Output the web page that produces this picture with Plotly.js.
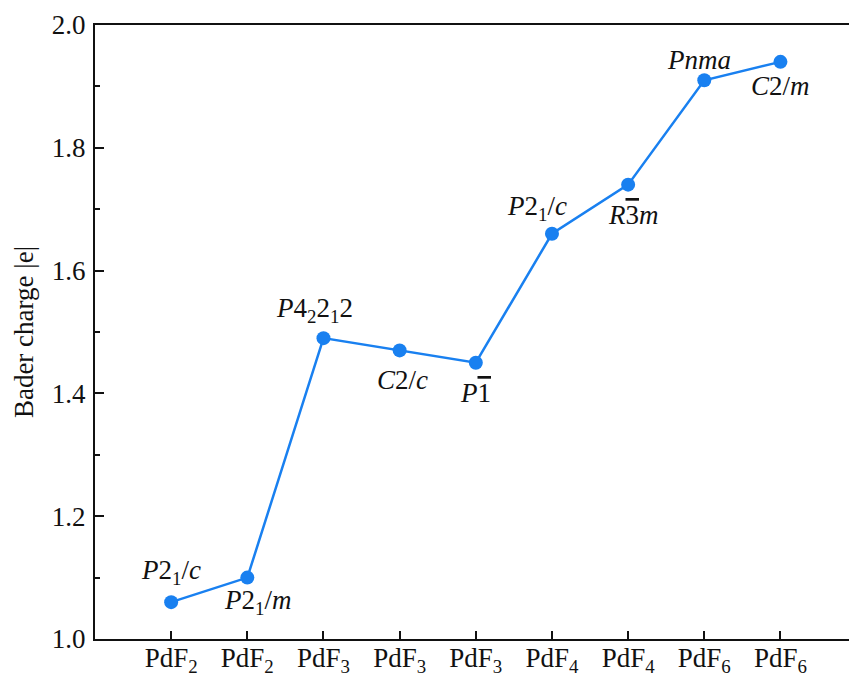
<!DOCTYPE html>
<html><head><meta charset="utf-8">
<script src="https://cdn.plot.ly/plotly-3.0.1.min.js"></script>
<style>body{margin:0;background:#fff}#c{width:849px;height:677px}</style>
</head><body><div id="c"></div>
<script>
const xPos = [1, 2, 3, 4, 5, 6, 7, 8, 9];
const tickLabels = ['PdF<sub>2</sub>','PdF<sub>2</sub>','PdF<sub>3</sub>','PdF<sub>3</sub>','PdF<sub>3</sub>','PdF<sub>4</sub>','PdF<sub>4</sub>','PdF<sub>6</sub>','PdF<sub>6</sub>'];
const baderCharge = [1.06, 1.10, 1.49, 1.47, 1.45, 1.66, 1.74, 1.91, 1.94];
const spaceGroups = ['<i>P</i>2<sub>1</sub>/<i>c</i>','<i>P</i>2<sub>1</sub>/<i>m</i>','<i>P</i>4<sub>2</sub>2<sub>1</sub>2','<i>C</i>2/<i>c</i>','<i>P</i><span style="text-decoration:overline">1</span>','<i>P</i>2<sub>1</sub>/<i>c</i>','<i>R</i><span style="text-decoration:overline">3</span><i>m</i>','<i>Pnma</i>','<i>C</i>2/<i>m</i>'];

const offs = [[0,30],[10,-24],[-9,28],[3,-30],[0,-30],[-15,26],[5,-30],[-5,20],[0,-24]];
const blue = 'rgb(25,128,240)';
const serif = 'Liberation Serif';

const annotations = spaceGroups.map((t,i)=>({
  x: xPos[i], y: baderCharge[i], xref:'x', yref:'y',
  text: t, showarrow:false,
  xshift: offs[i][0], yshift: offs[i][1],
  font:{family:serif, size:27, color:'#111'}
}));

Plotly.newPlot('c', [{
  x: xPos, y: baderCharge, type:'scatter', mode:'lines+markers',
  line:{color:blue, width:2.5},
  marker:{color:blue, size:14}
}], {
  width:849, height:677,
  margin:{l:95, r:0, t:25, b:38},
  paper_bgcolor:'#fff', plot_bgcolor:'#fff',
  showlegend:false,
  font:{family:serif, size:27, color:'#111'},
  xaxis:{range:[0,9.9], tickvals:xPos, ticktext:tickLabels,
    showline:true, linecolor:'#111', linewidth:2, mirror:true,
    ticks:'inside', ticklen:8, tickwidth:2, tickcolor:'#111', ticklabelstandoff:-6,
    showgrid:false, zeroline:false, tickfont:{family:serif,size:27,color:'#111'}},
  yaxis:{range:[1.0,2.0], tickvals:[1.0,1.2,1.4,1.6,1.8,2.0], ticktext:['1.0','1.2','1.4','1.6','1.8','2.0'],
    showline:true, linecolor:'#111', linewidth:2,
    ticks:'inside', ticklen:9, tickwidth:2, tickcolor:'#111', ticklabelstandoff:2,
    minor:{tickvals:[1.1,1.3,1.5,1.7,1.9], ticks:'inside', ticklen:5, tickwidth:2, tickcolor:'#111'},
    showgrid:false, zeroline:false, tickfont:{family:serif,size:27,color:'#111'},
    title:{text:'Bader charge |e|', font:{family:serif,size:27,color:'#111'}, standoff:10}},
  annotations: annotations
}, {staticPlot:true});
</script></body></html>
